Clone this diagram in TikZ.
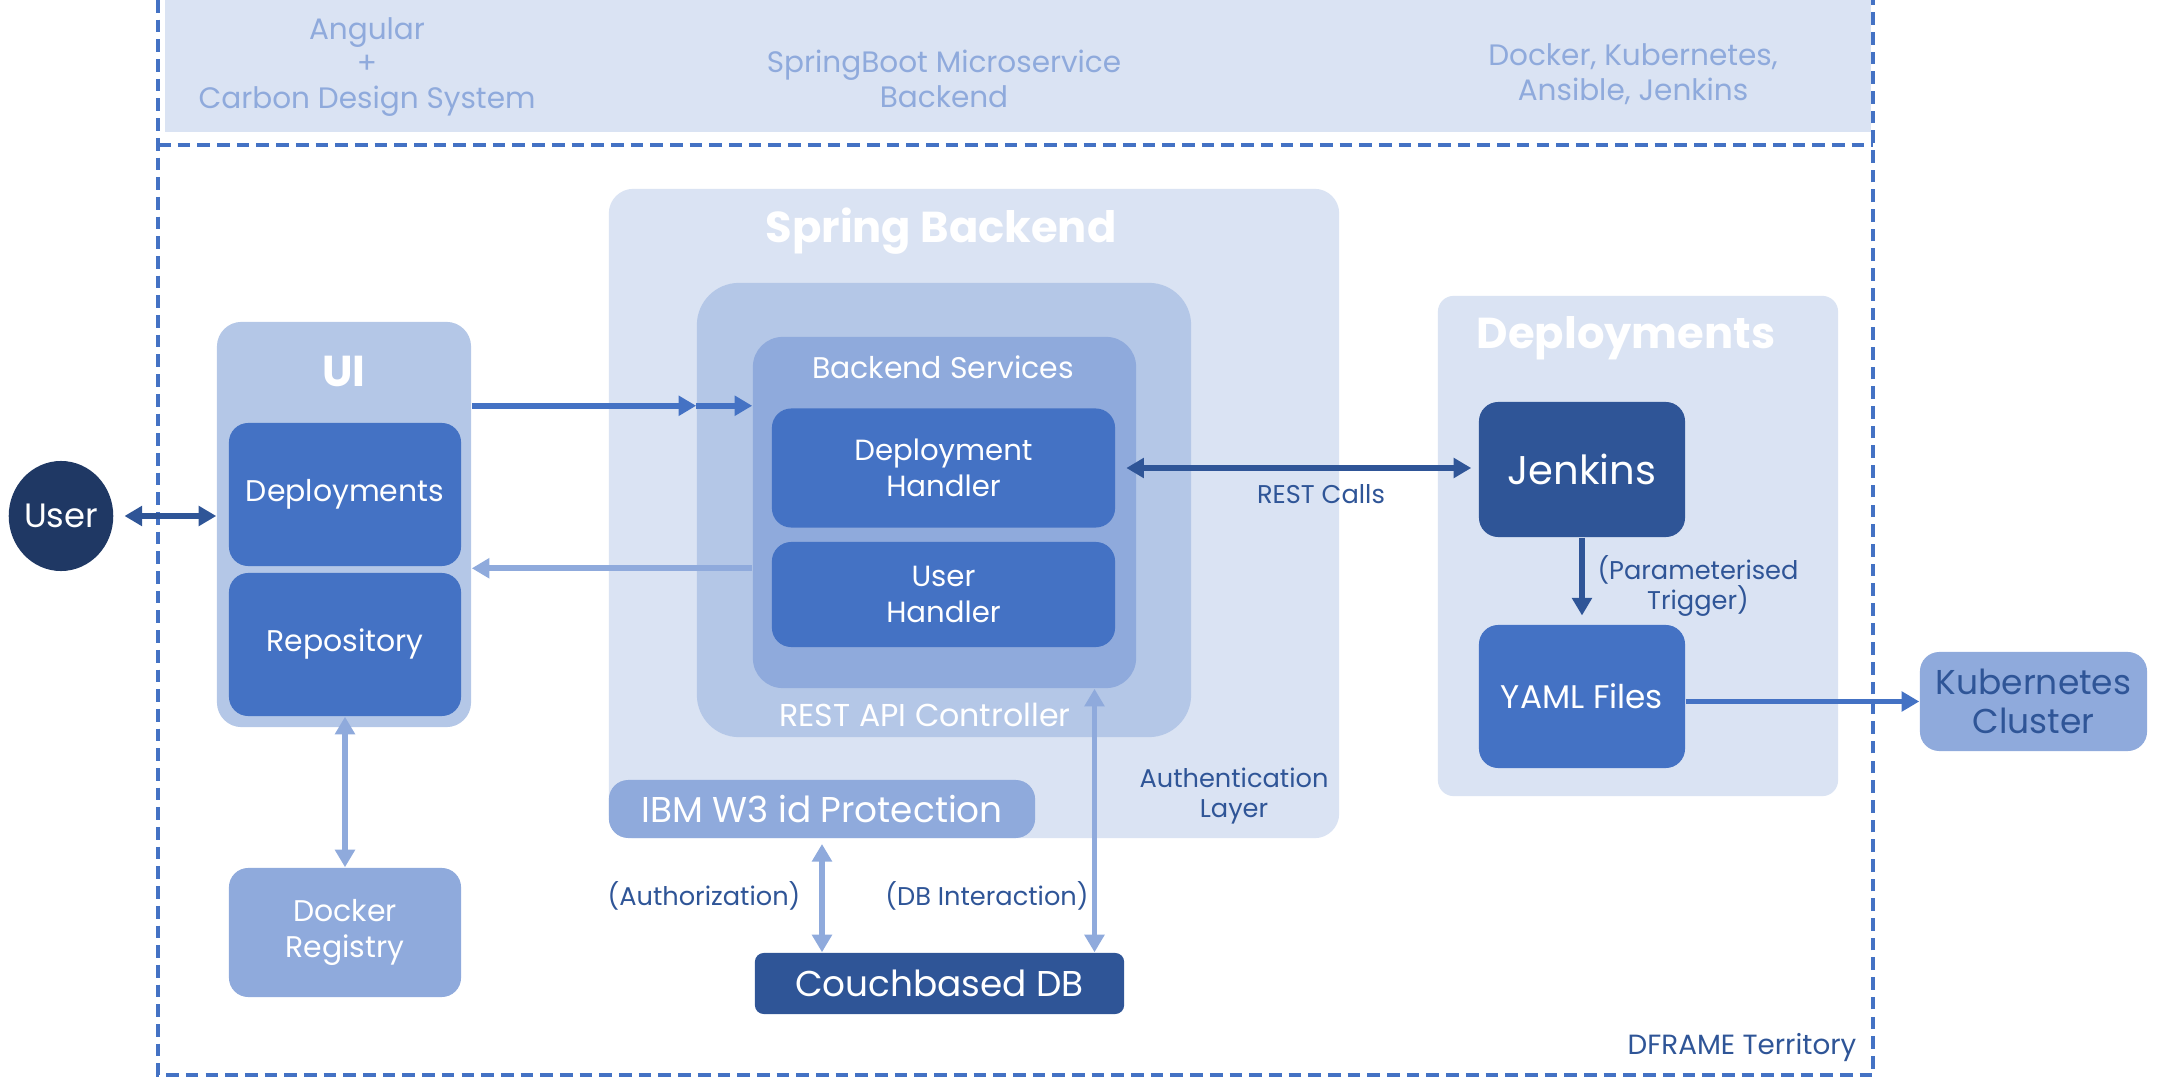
\documentclass[tikz,border=0pt]{standalone}
\usepackage{fontspec}
\setmainfont{Poppins}
\usepackage{tikz}
\usetikzlibrary{arrows.meta}
\usetikzlibrary{calc}
\usetikzlibrary{shapes.geometric}
\definecolor{pale}{HTML}{DAE3F3}
\definecolor{soft}{HTML}{B4C7E7}
\definecolor{mid}{HTML}{8FAADC}
\definecolor{accent}{HTML}{4472C4}
\definecolor{deep}{HTML}{2F5597}
\definecolor{navy}{HTML}{1F3864}
\newcommand{\fs}[2]{\fontsize{#1}{#2}\selectfont}
\tikzset{panel/.style = {rounded corners=7pt, inner sep=0pt},
         box/.style = {fill=accent, text=white, rounded corners=5.5pt, align=center,
                       inner sep=0pt, font=\fs{8.5}{10.2}},
         heading/.style = {text=white, font=\bfseries\fs{12.3}{14}},
         lbl/.style = {text=deep, align=center, font=\fs{7.3}{8.6}},
         tech/.style = {text=mid, align=center, font=\fs{8.4}{9.9}},
         arr/.style = {line width=1.6pt, -{Triangle[length=5pt, width=5.5pt]}},
         dbl/.style = {line width=1.6pt,
                       {Triangle[length=5pt, width=5.5pt]}-{Triangle[length=5pt, width=5.5pt]}},
         fence/.style = {accent, line width=1pt, dash pattern=on 3.6pt off 2pt}}

\begin{document}
\begin{tikzpicture}[x=0.01cm, y=-0.01cm]
  \useasboundingbox (0, 0) rectangle (2171, 1079);

  \fill [pale] (165, 0) rectangle (1871, 132);
  \draw [fence] (158, 0) -- (158, 1075) -- (1873, 1075) -- (1873, 0);
  \draw [fence] (158, 145) -- (1873, 145);
  \node [tech] (angular) at (367, 67) {Angular\\+\\Carbon Design System};
  \node [tech] (spring) at (944, 79) {SpringBoot Microservice\\Backend};
  \node [tech] (devops) at (1633, 74) {Docker, Kubernetes,\\Ansible, Jenkins};

  \node [ellipse, fill=navy, text=white, minimum width=1.0cm, minimum height=1.1cm,
         inner sep=0pt, font=\fs{9.6}{11}] (user) at (61, 516) {User};

  \node [panel, fill=soft, minimum width=2.54cm, minimum height=4.05cm] (ui) at (344, 524.5) {};
  \node [heading] (uititle) at (344, 371) {UI};
  \node [box, minimum width=2.32cm, minimum height=1.43cm] (deploy) at (345, 494.5) {Deployments};
  \node [box, minimum width=2.32cm, minimum height=1.43cm] (repo) at (345, 644.5) {Repository};
  \node [box, fill=mid, minimum width=2.32cm, minimum height=1.29cm] (registry) at (345, 932.5) {Docker\\Registry};

  \node [panel, fill=pale, minimum width=7.3cm, minimum height=6.49cm] (auth) at (974, 513.5) {};
  \node [heading] (springtitle) at (941, 231) {Spring Backend};
  \node [panel, fill=soft, rounded corners=12pt, minimum width=4.94cm, minimum height=4.54cm] (ctrl) at (944, 510) {};
  \node [text=white, font=\fs{9}{10}] (ctrllbl) at (925, 715) {REST API Controller};
  \node [panel, fill=mid, rounded corners=8.5pt, minimum width=3.83cm, minimum height=3.51cm] (svc) at (944.5, 512.5) {};
  \node [text=white, font=\fs{8.5}{9}] (svclbl) at (943, 367) {Backend Services};
  \node [box, minimum width=3.43cm, minimum height=1.19cm, font=\fs{8.3}{10.2}] (dh) at (943.5, 468) {Deployment\\Handler};
  \node [box, minimum width=3.43cm, minimum height=1.05cm, font=\fs{8.3}{10.2}] (uh) at (943.5, 594.5) {User\\Handler};
  \node [lbl] (authlbl) at (1234, 796) {Authentication\\Layer};
  \node [box, fill=mid, minimum width=4.26cm, minimum height=0.58cm, font=\fs{10.2}{11}] (w3id) at (822, 809) {IBM W3 id Protection};
  \node [box, fill=deep, rounded corners=2.5pt, minimum width=3.69cm, minimum height=0.61cm,
         font=\fs{10.2}{11}] (db) at (939.5, 983.5) {Couchbased DB};

  \node [panel, fill=pale, rounded corners=4.5pt, minimum width=4cm, minimum height=5cm] (cd) at (1638, 546) {};
  \node [heading] (cdtitle) at (1626, 338) {Deployments};
  \node [box, fill=deep, minimum width=2.06cm, minimum height=1.35cm, font=\fs{11.4}{12}] (jenkins) at (1582, 469.5) {Jenkins};
  \node [box, minimum width=2.06cm, minimum height=1.43cm, font=\fs{9.3}{10}] (yaml) at (1582, 696.5) {YAML Files};
  \node [box, fill=mid, text=deep, minimum width=2.27cm, minimum height=0.99cm,
         font=\fs{9.8}{11.2}] (kube) at (2033.5, 701.5) {Kubernetes\\Cluster};

  \draw [dbl, deep, shorten <=3pt] (user.east) -- (user.east -| ui.west);
  \draw [arr, accent] ($(ui.east |- dh.north)+(0, -2)$) -- ($(ctrl.west |- dh.north)+(0, -2)$);
  \draw [arr, accent] ($(ctrl.west |- dh.north)+(0, -2)$) -- ($(svc.west |- dh.north)+(0, -2)$);
  \draw [arr, mid] ($(svc.west |- uh.north)+(0, 27)$) -- ($(ui.east |- uh.north)+(0, 27)$);
  \draw [dbl, deep, shorten <=3pt, shorten >=2pt] (dh.east) -- (dh.east -| jenkins.west);
  \node [lbl] (restlbl) at (1321, 494) {REST Calls};
  \draw [arr, deep, shorten >=2.5pt] (jenkins.south) -- (yaml.north);
  \node [lbl] (triglbl) at (1698, 586) {(Parameterised\\Trigger)};
  \draw [arr, accent] (yaml.east |- kube.west) -- (kube.west);
  \draw [dbl, mid] (repo.south) -- (registry.north);
  \draw [dbl, mid, shorten <=1.5pt] (w3id.south) -- (w3id.south |- db.north);
  \coordinate (dbtap) at ($(svc.south west)!0.89!(svc.south east)$);
  \draw [dbl, mid] (dbtap) -- (dbtap |- db.north);
  \node [lbl] (authzlbl) at (704, 896) {(Authorization)};
  \node [lbl] (dbilbl) at (987, 896) {(DB Interaction)};
  \node [lbl, anchor=east, inner sep=0pt, font=\fs{7.9}{9}] (territory) at (1857, 1048) {DFRAME Territory};
\end{tikzpicture}
\end{document}
